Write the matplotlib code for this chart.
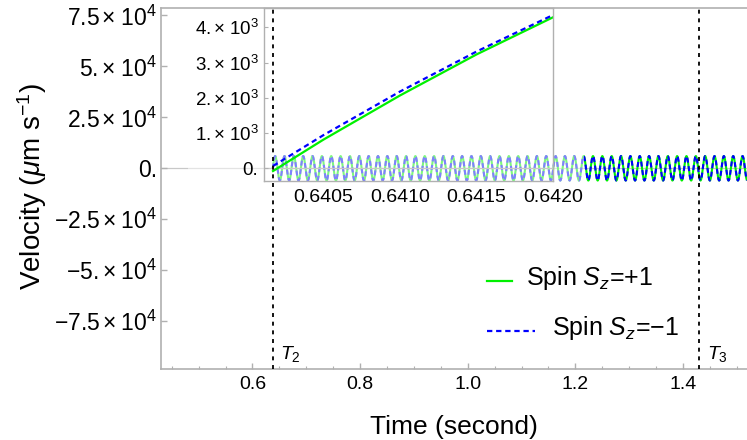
import numpy as np
import matplotlib
matplotlib.use("Agg")
import matplotlib.pyplot as plt
from matplotlib.ticker import FixedLocator, MultipleLocator, NullLocator
from matplotlib.patches import Rectangle
from matplotlib.lines import Line2D
import matplotlib.transforms as mtransforms

plt.rcParams['font.family'] = ['Liberation Sans', 'DejaVu Sans']
plt.rcParams['mathtext.fontset'] = 'custom'
plt.rcParams['mathtext.rm'] = 'Liberation Sans'
plt.rcParams['mathtext.it'] = 'Liberation Sans:italic'
plt.rcParams['mathtext.bf'] = 'Liberation Sans:bold'

# ---------------- data ----------------
T2 = 0.6378
T3 = 1.430
osc_amplitude = 6.0e3          # velocity oscillation amplitude (um/s)
osc_period = 0.017372          # apparent oscillation period (s)
osc_end = 1.519

main_xticks = [0.6, 0.8, 1.0, 1.2, 1.4]
main_xticklabels = ["0.6", "0.8", "1.0", "1.2", "1.4"]
main_yticks = [-7.5e4, -5e4, -2.5e4, 0, 2.5e4, 5e4, 7.5e4]
main_yticklabels = [r"$-7.5\,{\times}\;10^{4}$", r"$-5.{\times}\;10^{4}$", r"$-2.5\,{\times}\;10^{4}$",
                    "0.",
                    r"$2.5\,{\times}\;10^{4}$", r"$5.{\times}\;10^{4}$", r"$7.5\,{\times}\;10^{4}$"]

inset_t = [0.640169, 0.6405, 0.6410, 0.6415, 0.6420]
inset_v_plus = [-77, 817, 2068, 3231, 4284]
inset_v_minus = [65, 945, 2179, 3313, 4349]
inset_xticks = [0.6405, 0.6410, 0.6415, 0.6420]
inset_xticklabels = ["0.6405", "0.6410", "0.6415", "0.6420"]
inset_yticks = [0, 1e3, 2e3, 3e3, 4e3]
inset_yticklabels = ["0.", r"$1.{\times}\;10^{3}$", r"$2.{\times}\;10^{3}$",
                     r"$3.{\times}\;10^{3}$", r"$4.{\times}\;10^{3}$"]

legend_labels = [r"Spin $S_z$=+1", r"Spin $S_z$=$-$1"]
xlabel = "Time (second)"
ylabel = r"Velocity ($\mu$m s$^{-1}$)"

# ---------------- styling ----------------
W, H = 747, 440
GREEN = '#00f000'
BLUE = '#0000ff'
GRAY = '#b0b0b0'
ZGRAY = '#c8c8c8'
blue_dash = (0, (2.4, 1.7))

fig = plt.figure(figsize=(W / 100, H / 100), dpi=100)

def fx(px):
    return px / W

def fy(py):
    return 1 - py / H

ax = fig.add_axes([fx(161), fy(369), (W - 161) / W, (369 - 8) / H], zorder=0)
ax.set_xlim(0.43, osc_end)
ax.set_ylim(-98384, 78580)

t = np.linspace(T2, osc_end, 6000)
v = osc_amplitude * np.sin(2 * np.pi * (t - T2) / osc_period)
ax.plot(t, v, color=GREEN, lw=1.5, solid_capstyle='butt')
ax.plot(t, v, color=BLUE, lw=1.5, linestyle=blue_dash)
ax.axhline(0, color=ZGRAY, lw=0.9, zorder=0.5)

for s in ['left', 'bottom', 'top']:
    ax.spines[s].set_color(GRAY)
    ax.spines[s].set_linewidth(1.2)
ax.spines['right'].set_visible(False)

ax.xaxis.set_major_locator(FixedLocator(main_xticks))
ax.set_xticklabels(main_xticklabels)
ax.xaxis.set_minor_locator(MultipleLocator(0.05))
ax.yaxis.set_major_locator(FixedLocator(main_yticks))
ax.set_yticklabels(main_yticklabels)
ax.yaxis.set_minor_locator(NullLocator())
ax.tick_params(axis='x', which='major', direction='in', length=4, width=1, color=GRAY,
               labelsize=14, pad=5, top=False)
ax.tick_params(axis='x', which='minor', direction='in', length=2.5, width=0.8, color=GRAY, top=False)
ax.tick_params(axis='y', which='major', direction='in', length=4, width=1, color=GRAY,
               labelsize=16.5, pad=3, right=False)

# T2 / T3 labels
ax.annotate(r"$T_2$", xy=(T2, -91275), xytext=(5.5, 0), textcoords='offset points',
            ha='left', va='center', fontsize=14)
ax.annotate(r"$T_3$", xy=(T3, -91275), xytext=(6, 0), textcoords='offset points',
            ha='left', va='center', fontsize=14)

# translucent backdrop of the inset
fig.add_artist(Rectangle((fx(188), fy(200)), (584 - 188) / W, (200 - 9) / H,
                         transform=fig.transFigure, facecolor='white', alpha=0.5,
                         edgecolor='none', zorder=1))

# inset
axin = fig.add_axes([fx(264), fy(181), (553 - 264) / W, (181 - 8) / H], zorder=2)
axin.set_facecolor('none')
axin.set_xlim(0.64011, 0.6420)
axin.set_ylim(-360, 4548)
axin.axhline(0, color=ZGRAY, lw=0.9, zorder=0.5)
axin.plot(inset_t, inset_v_plus, color=GREEN, lw=1.6)
axin.plot(inset_t, inset_v_minus, color=BLUE, lw=1.6, linestyle=blue_dash)
for s in axin.spines.values():
    s.set_color(GRAY)
    s.set_linewidth(1.0)
axin.xaxis.set_major_locator(FixedLocator(inset_xticks))
axin.set_xticklabels(inset_xticklabels)
axin.yaxis.set_major_locator(FixedLocator(inset_yticks))
axin.set_yticklabels(inset_yticklabels)
axin.tick_params(axis='x', direction='in', length=0, labelsize=14, pad=6)
axin.tick_params(axis='y', direction='in', length=3, width=0.8, color=GRAY, labelsize=13.5, pad=4)

# T lines on top
trans = mtransforms.blended_transform_factory(ax.transData, fig.transFigure)
for T in [T2, T3]:
    fig.add_artist(Line2D([T, T], [fy(369), fy(8)], transform=trans, color='black',
                          lw=1.3, linestyle=(0, (2.2, 2.6)), zorder=3))

# legend (manual)
fig.add_artist(Line2D([fx(487), fx(512)], [fy(281), fy(281)], transform=fig.transFigure,
                      color=GREEN, lw=1.6, zorder=3))
fig.text(fx(526), fy(285.5), legend_labels[0], fontsize=18, ha='left', va='baseline', zorder=3)
fig.add_artist(Line2D([fx(487), fx(535)], [fy(331), fy(331)], transform=fig.transFigure,
                      color=BLUE, lw=1.6, linestyle=blue_dash, zorder=3))
fig.text(fx(552), fy(335.5), legend_labels[1], fontsize=18, ha='left', va='baseline', zorder=3)

# axis labels
fig.text(fx(454), fy(434), xlabel, fontsize=19, ha='center', va='baseline')
fig.text(fx(41), fy(186.5), ylabel, fontsize=20, ha='center', va='baseline',
         rotation=90, rotation_mode='anchor')

fig.savefig("out.png", dpi=100)
